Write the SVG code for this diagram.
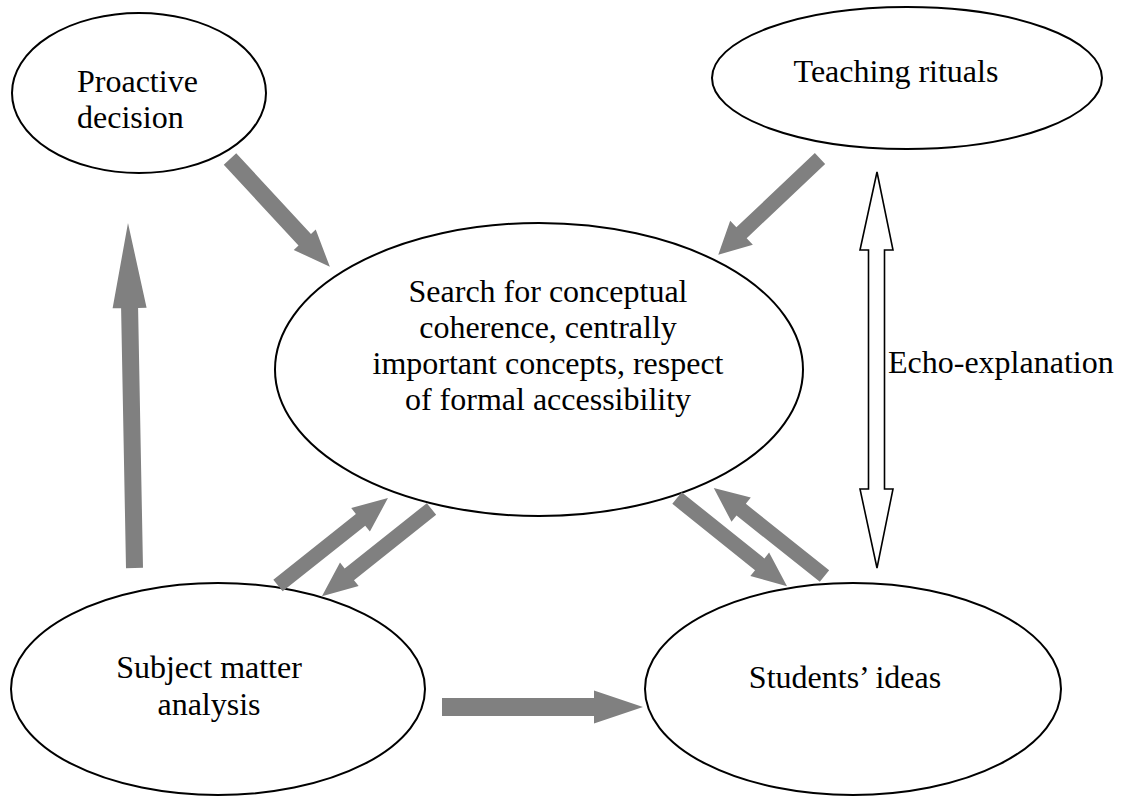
<svg xmlns="http://www.w3.org/2000/svg" width="1124" height="796" viewBox="0 0 1124 796" font-family="Liberation Serif, serif" font-size="32">
<style>
.node ellipse{fill:#fff;stroke:#000;stroke-width:2}
.c{text-anchor:middle}
.ga{fill:#808080;stroke:none}
.oa{fill:#fff;stroke:#000;stroke-width:1.6;stroke-linejoin:miter}
</style>
<rect width="1124" height="796" fill="#fff"/>
<g id="node-proactive" class="node">
<ellipse cx="139" cy="93" rx="127" ry="80"/>
<text x="77" y="92">Proactive</text>
<text x="77" y="128">decision</text>
</g>
<g id="node-teaching" class="node">
<ellipse cx="907" cy="78" rx="195" ry="71"/>
<text class="c" x="896" y="82">Teaching rituals</text>
</g>
<g id="node-central" class="node">
<ellipse cx="539" cy="369.5" rx="264" ry="146.5"/>
<text class="c" x="548" y="302">Search for conceptual</text>
<text class="c" x="548" y="338">coherence, centrally</text>
<text class="c" x="548" y="374">important concepts, respect</text>
<text class="c" x="548" y="410">of formal accessibility</text>
</g>
<g id="node-subject" class="node">
<ellipse cx="218" cy="689" rx="207" ry="106"/>
<text class="c" x="209" y="678">Subject matter</text>
<text class="c" x="209" y="715">analysis</text>
</g>
<g id="node-students" class="node">
<ellipse cx="853" cy="689" rx="208" ry="106"/>
<text class="c" x="845" y="688">Students’ ideas</text>
</g>
<g id="connectors">
<polygon class="ga" transform="translate(230,159) rotate(47.2)" points="0,-8.5 110,-8.5 110,-15 147,0 110,15 110,8.5 0,8.5"/>
<polygon class="ga" transform="translate(134.5,568) rotate(-91.08)" points="0,-8.5 260,-8.5 260,-17 345,0 260,17 260,8.5 0,8.5"/>
<polygon class="ga" transform="translate(820,158.5) rotate(136.6)" points="0,-7.5 108,-7.5 108,-16.5 140,0 108,16.5 108,7.5 0,7.5"/>
<polygon class="ga" transform="translate(278,585.5) rotate(-38.5)" points="0,-7.5 105.5,-7.5 105.5,-15 140.5,0 105.5,15 105.5,7.5 0,7.5"/>
<polygon class="ga" transform="translate(431.5,509) rotate(141.5)" points="0,-7.5 105,-7.5 105,-15 140,0 105,15 105,7.5 0,7.5"/>
<polygon class="ga" transform="translate(677,498) rotate(38.7)" points="0,-7.5 106,-7.5 106,-15 141,0 106,15 106,7.5 0,7.5"/>
<polygon class="ga" transform="translate(824.5,576) rotate(-141.5)" points="0,-7.5 106.5,-7.5 106.5,-15.5 141.5,0 106.5,15.5 106.5,7.5 0,7.5"/>
<polygon class="ga" transform="translate(442,707) rotate(0)" points="0,-9 152,-9 152,-16.5 201,0 152,16.5 152,9 0,9"/>
<polygon class="oa" points="877,172 893,250 884.5,250 884.5,489 893,489 877,568 860,489 868.5,489 868.5,250 860,250"/>
<text x="888" y="373">Echo-explanation</text>
</g>
</svg>
